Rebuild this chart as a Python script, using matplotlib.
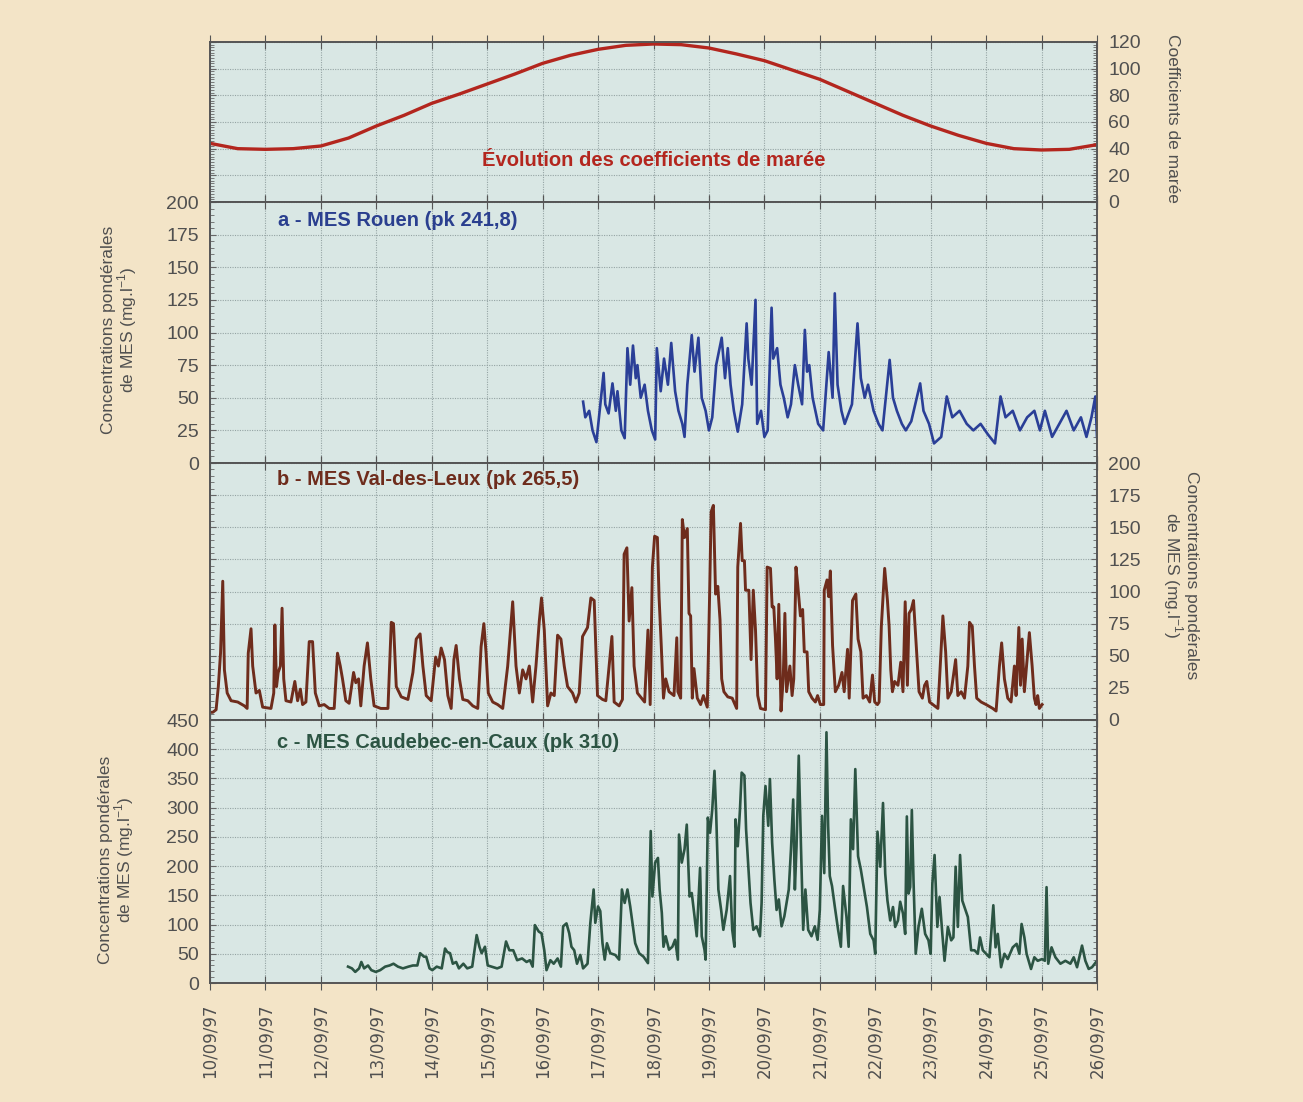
import matplotlib
matplotlib.use("Agg")
import matplotlib.pyplot as plt
from matplotlib import font_manager
from matplotlib.ticker import MultipleLocator

# tide coefficients (half-day readings)
tide_days = [10.0, 10.5, 11.0, 11.5, 12.0, 12.5, 13.0, 13.5, 14.0, 14.5, 15.0, 15.5,
             16.0, 16.5, 17.0, 17.5, 18.0, 18.5, 19.0, 19.5, 20.0, 20.5, 21.0, 21.5,
             22.0, 22.5, 23.0, 23.5, 24.0, 24.5, 25.0, 25.5, 26.0]
tide_coef = [44, 40, 39.5, 40, 42, 48, 57, 65, 74, 81, 88.5, 96,
             104, 110, 114.5, 117.5, 118.5, 118, 115.5, 111, 106, 99, 92, 83,
             74, 65, 57, 50, 44, 40, 39, 39.5, 43]

# a - MES Rouen (day, mg/l)
rouen = [(16.73, 47), (16.77, 35), (16.84, 40), (16.90, 25), (16.97, 16), (17.10, 69),
         (17.13, 45), (17.19, 38), (17.26, 61), (17.32, 40), (17.35, 55), (17.42, 25),
         (17.48, 19), (17.53, 88), (17.58, 60), (17.63, 90), (17.68, 65), (17.71, 75),
         (17.77, 50), (17.84, 60), (17.90, 40), (17.97, 25), (18.03, 18), (18.06, 88),
         (18.13, 55), (18.19, 80), (18.26, 60), (18.32, 92), (18.39, 55), (18.45, 40),
         (18.52, 30), (18.56, 20), (18.61, 60), (18.69, 98), (18.74, 70), (18.81, 96),
         (18.87, 50), (18.94, 40), (19.00, 25), (19.06, 35), (19.13, 75), (19.23, 96),
         (19.29, 65), (19.34, 88), (19.39, 60), (19.45, 40), (19.52, 24), (19.60, 45),
         (19.68, 107), (19.71, 80), (19.77, 60), (19.84, 125), (19.87, 30), (19.94, 40),
         (20.00, 20), (20.06, 25), (20.13, 119), (20.16, 80), (20.23, 88), (20.29, 60),
         (20.35, 50), (20.42, 35), (20.48, 45), (20.55, 75), (20.61, 60), (20.68, 45),
         (20.73, 102), (20.77, 70), (20.81, 75), (20.87, 50), (20.97, 30), (21.06, 25),
         (21.16, 85), (21.23, 50), (21.27, 130), (21.32, 60), (21.39, 40), (21.45, 30),
         (21.58, 45), (21.68, 107), (21.74, 65), (21.81, 50), (21.87, 60), (21.97, 40),
         (22.06, 30), (22.13, 25), (22.26, 79), (22.32, 50), (22.39, 40), (22.48, 30),
         (22.55, 25), (22.65, 32), (22.81, 61), (22.87, 40), (22.97, 30), (23.06, 15),
         (23.19, 20), (23.29, 51), (23.39, 35), (23.52, 40), (23.65, 30), (23.77, 25),
         (23.90, 30), (24.03, 22), (24.16, 15), (24.26, 51), (24.35, 35), (24.48, 40),
         (24.61, 25), (24.74, 35), (24.87, 40), (24.97, 25), (25.06, 40), (25.19, 20),
         (25.32, 30), (25.45, 40), (25.58, 25), (25.71, 35), (25.81, 20), (25.90, 35),
         (25.97, 51), (26.00, 20)]

# b - MES Val-des-Leux
valdesleux = [(10.00, 6), (10.05, 6), (10.11, 8), (10.15, 26), (10.19, 52), (10.23, 108),
              (10.26, 39), (10.31, 21), (10.38, 15), (10.50, 14), (10.62, 11), (10.67, 9),
              (10.69, 52), (10.74, 71), (10.77, 42), (10.83, 21), (10.89, 23), (10.95, 10),
              (11.10, 9), (11.15, 21), (11.17, 74), (11.20, 26), (11.23, 37), (11.27, 42),
              (11.30, 87), (11.33, 32), (11.37, 15), (11.46, 14), (11.53, 30), (11.58, 15),
              (11.63, 24), (11.67, 12), (11.73, 14), (11.79, 61), (11.85, 61), (11.90, 21),
              (11.97, 11), (12.06, 12), (12.15, 9), (12.24, 9), (12.30, 52), (12.35, 42),
              (12.39, 32), (12.45, 15), (12.51, 13), (12.59, 37), (12.63, 29), (12.68, 32),
              (12.72, 11), (12.78, 42), (12.84, 60), (12.90, 32), (12.96, 11), (13.08, 9),
              (13.21, 9), (13.27, 76), (13.31, 75), (13.36, 26), (13.45, 18), (13.57, 16),
              (13.66, 37), (13.72, 63), (13.79, 67), (13.84, 42), (13.90, 19), (13.99, 15),
              (14.07, 49), (14.12, 42), (14.17, 56), (14.23, 47), (14.29, 19), (14.35, 9),
              (14.40, 47), (14.44, 58), (14.50, 32), (14.56, 16), (14.65, 15), (14.74, 11),
              (14.83, 9), (14.89, 57), (14.94, 75), (14.98, 52), (15.02, 21), (15.10, 14),
              (15.19, 12), (15.28, 9), (15.37, 42), (15.46, 92), (15.52, 42), (15.58, 21),
              (15.64, 39), (15.70, 32), (15.76, 42), (15.82, 14), (15.88, 42), (15.94, 77),
              (15.98, 95), (16.03, 70), (16.09, 11), (16.15, 21), (16.21, 19), (16.27, 66),
              (16.33, 63), (16.39, 42), (16.45, 26), (16.54, 21), (16.60, 14), (16.66, 21),
              (16.72, 65), (16.81, 72), (16.87, 95), (16.93, 93), (16.99, 19), (17.08, 16),
              (17.14, 15), (17.20, 42), (17.25, 65), (17.29, 14), (17.38, 11), (17.44, 16),
              (17.47, 129), (17.52, 134), (17.56, 77), (17.61, 103), (17.65, 42), (17.71, 21),
              (17.84, 14), (17.90, 70), (17.94, 12), (17.98, 119), (18.02, 143), (18.07, 142),
              (18.10, 96), (18.14, 58), (18.18, 17), (18.22, 32), (18.28, 22), (18.37, 19),
              (18.42, 64), (18.44, 22), (18.49, 17), (18.52, 156), (18.56, 142), (18.61, 149),
              (18.64, 83), (18.67, 81), (18.70, 17), (18.73, 40), (18.79, 17), (18.85, 12),
              (18.90, 19), (18.97, 10), (19.01, 93), (19.04, 162), (19.08, 167), (19.12, 98),
              (19.16, 104), (19.20, 78), (19.23, 32), (19.27, 22), (19.34, 18), (19.42, 17),
              (19.50, 9), (19.52, 119), (19.57, 153), (19.60, 124), (19.64, 124), (19.66, 101),
              (19.72, 101), (19.76, 47), (19.80, 101), (19.84, 70), (19.88, 19), (19.93, 9),
              (20.02, 8), (20.05, 119), (20.11, 118), (20.14, 88), (20.17, 88), (20.20, 63),
              (20.23, 32), (20.26, 90), (20.30, 7), (20.34, 32), (20.37, 83), (20.40, 22),
              (20.46, 42), (20.50, 19), (20.53, 32), (20.57, 119), (20.60, 106), (20.65, 81),
              (20.69, 86), (20.72, 53), (20.77, 53), (20.80, 22), (20.86, 17), (20.92, 14),
              (20.96, 19), (21.01, 12), (21.07, 12), (21.08, 101), (21.13, 109), (21.16, 96),
              (21.19, 116), (21.23, 58), (21.28, 22), (21.34, 27), (21.40, 37), (21.44, 22),
              (21.50, 55), (21.53, 17), (21.59, 93), (21.65, 98), (21.69, 63), (21.74, 53),
              (21.78, 17), (21.84, 19), (21.90, 14), (21.95, 35), (21.99, 14), (22.04, 12),
              (22.07, 14), (22.11, 73), (22.17, 118), (22.22, 93), (22.25, 73), (22.28, 39),
              (22.31, 22), (22.35, 30), (22.41, 27), (22.46, 45), (22.50, 22), (22.54, 92),
              (22.58, 27), (22.61, 83), (22.65, 86), (22.69, 93), (22.74, 58), (22.79, 22),
              (22.85, 17), (22.89, 27), (22.93, 30), (22.98, 14), (23.04, 12), (23.13, 9),
              (23.16, 32), (23.22, 81), (23.27, 53), (23.31, 17), (23.37, 22), (23.45, 47),
              (23.49, 19), (23.55, 22), (23.61, 17), (23.67, 42), (23.70, 76), (23.75, 73),
              (23.79, 42), (23.83, 17), (23.91, 14), (24.00, 12), (24.12, 9), (24.18, 7),
              (24.24, 42), (24.28, 60), (24.33, 32), (24.39, 17), (24.45, 14), (24.51, 42),
              (24.54, 19), (24.59, 72), (24.62, 27), (24.65, 63), (24.69, 22), (24.73, 42),
              (24.78, 68), (24.83, 42), (24.87, 17), (24.90, 12), (24.93, 19), (24.96, 9),
              (25.01, 12)]

# c - MES Caudebec-en-Caux
caudebec = [(12.49, 28), (12.56, 25), (12.62, 19), (12.69, 25), (12.73, 36), (12.78, 25),
            (12.85, 30), (12.91, 22), (12.99, 19), (13.07, 22), (13.16, 28), (13.24, 30),
            (13.31, 33), (13.39, 28), (13.48, 25), (13.58, 28), (13.66, 30), (13.74, 30),
            (13.79, 51), (13.86, 45), (13.90, 45), (13.96, 25), (14.01, 22), (14.09, 28),
            (14.18, 25), (14.24, 59), (14.28, 53), (14.33, 51), (14.38, 33), (14.44, 36),
            (14.49, 25), (14.57, 33), (14.64, 25), (14.73, 28), (14.81, 82), (14.86, 62),
            (14.90, 51), (14.96, 62), (15.01, 30), (15.08, 28), (15.18, 25), (15.26, 28),
            (15.34, 71), (15.40, 56), (15.47, 56), (15.54, 39), (15.63, 42), (15.71, 36),
            (15.77, 39), (15.82, 28), (15.86, 99), (15.93, 88), (15.98, 85), (16.03, 56),
            (16.07, 22), (16.14, 39), (16.20, 33), (16.27, 42), (16.33, 28), (16.37, 97),
            (16.43, 102), (16.48, 85), (16.52, 62), (16.57, 56), (16.62, 33), (16.68, 48),
            (16.73, 25), (16.81, 33), (16.86, 102), (16.92, 160), (16.95, 103), (17.00, 131),
            (17.04, 123), (17.08, 68), (17.12, 40), (17.16, 68), (17.22, 51), (17.31, 48),
            (17.38, 40), (17.43, 160), (17.48, 137), (17.53, 160), (17.58, 131), (17.62, 103),
            (17.67, 68), (17.74, 51), (17.82, 45), (17.90, 34), (17.95, 260), (17.98, 148),
            (18.03, 206), (18.08, 214), (18.11, 160), (18.15, 120), (18.18, 62), (18.22, 80),
            (18.28, 57), (18.34, 62), (18.39, 74), (18.44, 40), (18.46, 254), (18.51, 206),
            (18.56, 229), (18.60, 271), (18.65, 148), (18.69, 154), (18.74, 114), (18.78, 80),
            (18.84, 197), (18.87, 80), (18.92, 57), (18.94, 40), (18.98, 283), (19.02, 257),
            (19.06, 297), (19.10, 363), (19.13, 292), (19.17, 160), (19.22, 125), (19.26, 91),
            (19.32, 125), (19.38, 183), (19.42, 91), (19.46, 62), (19.48, 280), (19.52, 234),
            (19.56, 297), (19.59, 360), (19.64, 355), (19.67, 263), (19.71, 200), (19.75, 137),
            (19.80, 91), (19.86, 97), (19.92, 80), (19.95, 137), (19.98, 286), (20.02, 337),
            (20.07, 269), (20.10, 349), (20.14, 240), (20.18, 177), (20.22, 125), (20.26, 143),
            (20.31, 97), (20.36, 114), (20.40, 137), (20.44, 160), (20.48, 229), (20.52, 314),
            (20.55, 160), (20.58, 234), (20.62, 389), (20.66, 234), (20.70, 91), (20.74, 160),
            (20.79, 91), (20.85, 80), (20.91, 97), (20.96, 74), (21.00, 125), (21.04, 286),
            (21.08, 188), (21.12, 429), (21.15, 269), (21.18, 183), (21.22, 166), (21.27, 131),
            (21.33, 91), (21.38, 62), (21.42, 166), (21.48, 114), (21.52, 62), (21.56, 280),
            (21.60, 229), (21.64, 366), (21.69, 217), (21.74, 194), (21.85, 130), (21.91, 84),
            (21.97, 73), (22.00, 50), (22.04, 259), (22.09, 199), (22.14, 308), (22.18, 187),
            (22.22, 141), (22.27, 107), (22.32, 130), (22.36, 96), (22.41, 107), (22.45, 139),
            (22.50, 119), (22.54, 84), (22.57, 285), (22.60, 153), (22.63, 164), (22.66, 296),
            (22.69, 176), (22.73, 50), (22.78, 96), (22.84, 127), (22.90, 84), (22.96, 73),
            (23.00, 50), (23.03, 170), (23.07, 219), (23.12, 96), (23.16, 147), (23.21, 84),
            (23.25, 38), (23.31, 96), (23.37, 73), (23.41, 78), (23.45, 199), (23.49, 96),
            (23.53, 219), (23.57, 141), (23.61, 130), (23.67, 113), (23.73, 56), (23.79, 56),
            (23.85, 50), (23.89, 78), (23.94, 56), (24.00, 50), (24.06, 44), (24.13, 133),
            (24.17, 61), (24.21, 84), (24.27, 27), (24.33, 50), (24.39, 41), (24.48, 61),
            (24.55, 67), (24.60, 50), (24.64, 101), (24.69, 78), (24.73, 50), (24.81, 24),
            (24.87, 44), (24.93, 38), (25.01, 41), (25.06, 38), (25.09, 164), (25.12, 33),
            (25.18, 61), (25.25, 44), (25.34, 33), (25.43, 38), (25.52, 33), (25.58, 44),
            (25.64, 27), (25.73, 64), (25.79, 38), (25.85, 24), (25.91, 27), (26.00, 38)]

day_ticks = list(range(10, 27))
day_labels = [f"{d:02d}/09/97" for d in day_ticks]

names = {f.name for f in font_manager.fontManager.ttflist}
narrow = "Liberation Sans Narrow" if "Liberation Sans Narrow" in names else "Liberation Sans"
plt.rcParams['font.family'] = [narrow, 'DejaVu Sans']

BG = '#f3e4c7'
PLOT_BG = '#d9e7e4'
GRID = '#95a4a4'
TXT = '#505050'

fig = plt.figure(figsize=(13.03, 11.02), dpi=100)
fig.patch.set_facecolor(BG)

L, W = 210 / 1303, 887 / 1303
H = 1102
def box(top, bottom):
    return [L, 1 - bottom / H, W, (bottom - top) / H]

ax_t = fig.add_axes(box(42, 202))
ax_a = fig.add_axes(box(202, 463))
ax_b = fig.add_axes(box(463, 720))
ax_c = fig.add_axes(box(720, 983))

def style(ax, ymax, major, minor, side):
    ax.set_facecolor(PLOT_BG)
    ax.set_xlim(10, 26)
    ax.set_ylim(0, ymax)
    ax.set_xticks(day_ticks)
    ax.yaxis.set_major_locator(MultipleLocator(major))
    ax.yaxis.set_minor_locator(MultipleLocator(minor))
    ax.grid(True, which='major', color=GRID, linestyle=(0, (1, 1.2)), linewidth=0.8)
    for s in ax.spines.values():
        s.set_color('#555555')
        s.set_linewidth(1.4)
    ax.tick_params(axis='x', which='major', direction='inout', length=10, top=True,
                   bottom=True, labelbottom=False, color='#555555')
    ax.tick_params(axis='y', which='both', direction='in', left=True, right=True,
                   color='#666666', labelsize=14, labelcolor=TXT, pad=8)
    ax.tick_params(axis='y', which='major', length=4)
    ax.tick_params(axis='y', which='minor', length=3, width=0.6)
    if side == 'right':
        ax.tick_params(axis='y', labelleft=False, labelright=True)

style(ax_t, 120, 20, 2, 'right')
style(ax_a, 200, 25, 5, 'left')
style(ax_b, 200, 25, 5, 'right')
style(ax_c, 450, 50, 10, 'left')

ax_t.plot(tide_days, tide_coef, color='#b3261e', linewidth=2.4)
ax_a.plot([p[0] for p in rouen], [p[1] for p in rouen], color='#2a3f97', linewidth=1.9)
ax_b.plot([p[0] for p in valdesleux], [p[1] for p in valdesleux], color='#6e2c1c', linewidth=2.1)
ax_c.plot([p[0] for p in caudebec], [p[1] for p in caudebec], color='#2c5443', linewidth=1.9)

ax_c.tick_params(axis='x', labelbottom=True, labelsize=12, labelcolor=TXT, pad=10)
ax_c.set_xticklabels(day_labels, rotation=90, family='DejaVu Sans')

tfont = dict(fontsize=14.5, fontweight='bold')
ax_t.text(0.5, 0.26, "Évolution des coefficients de marée", transform=ax_t.transAxes,
          ha='center', va='center', color='#b3261e', **tfont)
ax_a.text(0.077, 0.93, "a - MES Rouen (pk 241,8)", transform=ax_a.transAxes,
          ha='left', va='center', color='#2a3f8f', **tfont)
ax_b.text(0.075, 0.935, "b - MES Val-des-Leux (pk 265,5)", transform=ax_b.transAxes,
          ha='left', va='center', color='#6e2c1c', **tfont)
ax_c.text(0.075, 0.915, "c - MES Caudebec-en-Caux (pk 310)", transform=ax_c.transAxes,
          ha='left', va='center', color='#2c5443', **tfont)

conc = "Concentrations pondérales\nde MES (mg.l$^{\\mathregular{-1}}$)"
lab = dict(fontsize=12.5, color=TXT, ha='center', va='center', linespacing=0.95)
fig.text(120 / 1303, 1 - 330 / H, conc, rotation=90, **lab)
fig.text(117 / 1303, 1 - 860 / H, conc, rotation=90, **lab)
fig.text(1180 / 1303, 1 - 575 / H, conc, rotation=270, **lab)
fig.text(1172 / 1303, 1 - 118 / H, "Coefficients de marée", rotation=270, **lab)

fig.savefig("out.png", dpi=100, facecolor=BG)
